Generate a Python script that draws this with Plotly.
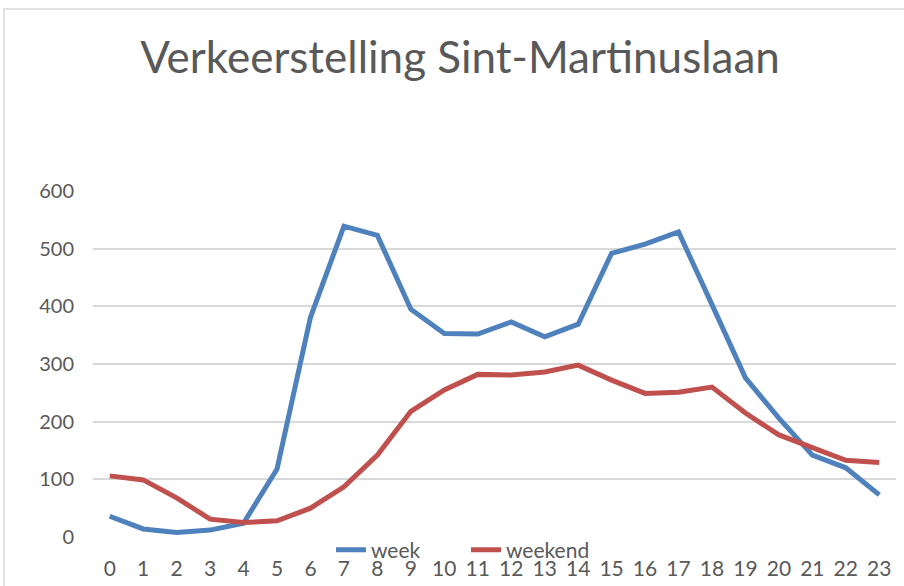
import plotly.graph_objects as go

# Hourly traffic counts, Sint-Martinuslaan
hours = [str(h) for h in range(24)]
week = [36, 14, 8, 12, 24, 118, 381, 539, 523, 395, 353, 352,
        373, 347, 369, 492, 508, 529, 403, 276, 206, 142, 120, 73]
weekend = [106, 99, 68, 31, 25, 28, 50, 87, 142, 218, 255, 282,
           281, 286, 298, 272, 249, 251, 260, 215, 177, 154, 133, 129]
y_ticks = [0, 100, 200, 300, 400, 500, 600]

TEXT = "#595959"
GRID = "#D9D9D9"
FONT = "Lato"

fig = go.Figure()
fig.add_trace(go.Scatter(x=hours, y=week, mode="lines", name="week",
                         line=dict(color="#4F81BD", width=5)))
fig.add_trace(go.Scatter(x=hours, y=weekend, mode="lines", name="weekend",
                         line=dict(color="#C0504D", width=5)))

W, H = 904, 586
L, R, T, B = 93, 8, 191, 49
pw, ph = W - L - R, H - T - B

# light frame around the whole chart
fig.add_shape(type="rect", xref="paper", yref="paper",
              x0=(4 - L) / pw, x1=(W + 2 - L) / pw,
              y0=(H - B - (H + 4)) / ph, y1=(H - B - 9) / ph,
              line=dict(color=GRID, width=1.5), fillcolor="rgba(0,0,0,0)",
              layer="below")

fig.update_layout(
    width=W, height=H,
    margin=dict(l=L, r=R, t=T, b=B),
    paper_bgcolor="white", plot_bgcolor="white",
    font=dict(family=FONT, color=TEXT, size=20),
    title=dict(text="Verkeerstelling Sint-Martinuslaan",
               font=dict(family=FONT, size=44, color=TEXT),
               x=460 / W, xref="container", xanchor="center",
               y=1 - 58 / H, yref="container", yanchor="middle"),
    showlegend=True,
    legend=dict(orientation="h", x=(466 - L) / pw, xanchor="center",
                y=-13 / ph, yanchor="middle", bgcolor="rgba(0,0,0,0)",
                font=dict(size=21, color=TEXT), itemwidth=30,
                entrywidth=90, tracegroupgap=0),
    xaxis=dict(type="category", range=[-0.5, 23.5], showgrid=False,
               showline=False, zeroline=False, ticks="", automargin=False,
               tickfont=dict(size=21, color=TEXT), ticklabelstandoff=17),
    yaxis=dict(range=[0, 600], tickvals=y_ticks, showgrid=True,
               gridcolor=GRID, gridwidth=1.5, zeroline=False,
               showline=False, ticks="", automargin=False,
               tickfont=dict(size=20, color=TEXT), ticklabelstandoff=18),
)

fig.write_html("out.html")
